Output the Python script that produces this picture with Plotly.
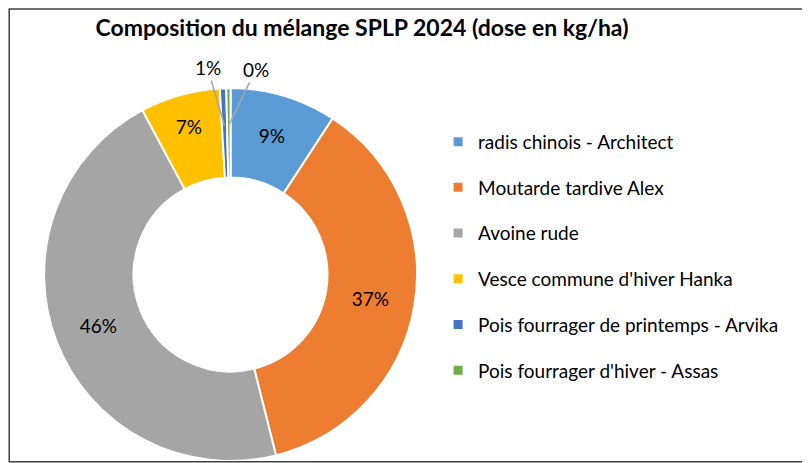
import math
import plotly.graph_objects as go

# dose en kg/ha (valeurs estimées à partir des pourcentages affichés)
especes = [
    "radis chinois - Architect",
    "Moutarde tardive Alex",
    "Avoine rude",
    "Vesce commune d'hiver Hanka",
    "Pois fourrager de printemps - Arvika",
    "Pois fourrager d'hiver - Assas",
]
doses = [2.0, 8.0, 10.0, 1.5, 0.12, 0.08]
couleurs = ["#5B9BD5", "#ED7D31", "#A5A5A5", "#FFC000", "#4472C4", "#70AD47"]
positions_texte = ["inside", "inside", "inside", "inside", "none", "none"]

FONT = "Lato"
W, H = 810, 463
dom_x = [0.0445, 0.505]
dom_y = [0.0216, 0.827]

fig = go.Figure()

fig.add_trace(go.Pie(
    labels=especes,
    values=doses,
    hole=0.52,
    sort=False,
    direction="clockwise",
    rotation=0,
    texttemplate="%{percent:.0%}",
    textposition=positions_texte,
    insidetextorientation="horizontal",
    textfont=dict(family=FONT, size=19, color="#000000"),
    marker=dict(colors=couleurs, line=dict(color="white", width=2)),
    showlegend=False,
    domain=dict(x=dom_x, y=dom_y),
))

# légende espacée comme dans Excel (une entrée par groupe)
for nom, coul in zip(especes, couleurs):
    fig.add_trace(go.Scatter(
        x=[None], y=[None], mode="markers", name=nom, legendgroup=nom,
        marker=dict(symbol="square", size=9, color=coul),
    ))

# étiquettes extérieures des petites parts, avec ligne de rappel
cx = (dom_x[0] + dom_x[1]) / 2 * W
cy = (1 - (dom_y[0] + dom_y[1]) / 2) * H
rayon = min((dom_x[1] - dom_x[0]) * W, (dom_y[1] - dom_y[0]) * H) / 2
total = sum(doses)
decalages = {4: (-17, -58), 5: (27, -56)}
annotations = []
cumul = 0
for i, d in enumerate(doses):
    milieu = (cumul + d / 2) / total * 2 * math.pi
    cumul += d
    if i not in decalages:
        continue
    r = rayon * 0.8
    px = cx + r * math.sin(milieu)
    py = cy - r * math.cos(milieu)
    ax, ay = decalages[i]
    annotations.append(dict(
        x=px / W, y=1 - py / H, xref="paper", yref="paper",
        text=f"{round(d / total * 100)}%", showarrow=True, arrowhead=0,
        arrowwidth=1.5, arrowcolor="#A6A6A6", ax=ax, ay=ay,
        font=dict(family=FONT, size=19, color="#000000"),
    ))

fig.update_layout(
    width=W, height=H,
    margin=dict(l=0, r=0, t=0, b=0),
    paper_bgcolor="white",
    plot_bgcolor="white",
    xaxis=dict(visible=False), yaxis=dict(visible=False),
    title=dict(text="<b>Composition du mélange SPLP 2024 (dose en kg/ha)</b>",
               x=0.437, xanchor="center", y=0.957, yanchor="middle",
               font=dict(family=FONT, size=23, color="#000000")),
    legend=dict(x=0.531, xanchor="left", y=0.752, yanchor="top",
                font=dict(family=FONT, size=19, color="#000000"),
                tracegroupgap=18, itemsizing="trace", itemwidth=30),
    annotations=annotations,
    shapes=[dict(type="rect", xref="paper", yref="paper",
                 x0=0.0015, y0=0.02, x1=0.985, y1=0.998,
                 line=dict(color="#404040", width=1.5))],
)

fig.write_html("out.html")
